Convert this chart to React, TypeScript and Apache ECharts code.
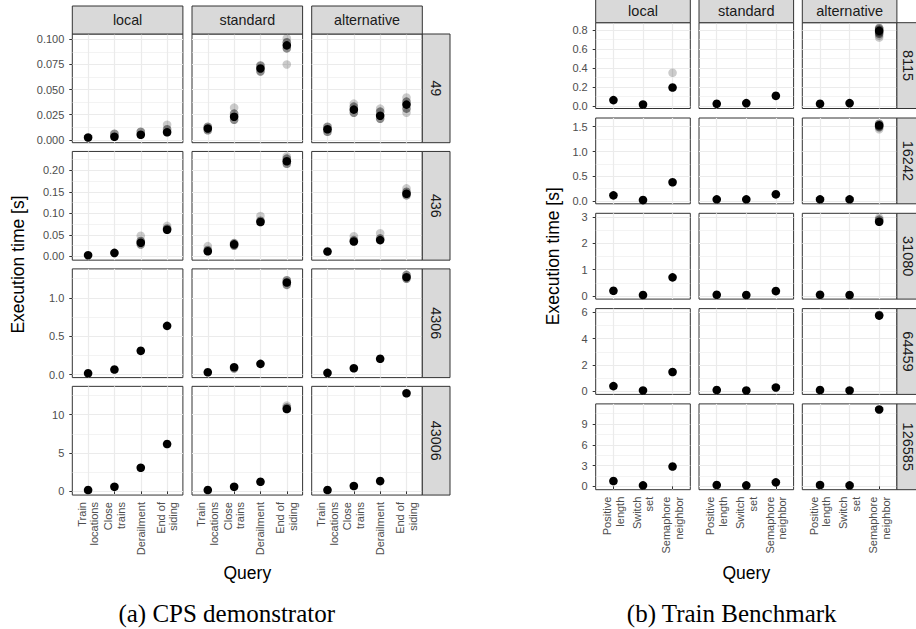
import React, { useEffect, useRef } from "react";
import * as echarts from "echarts";

const methods = ["local", "standard", "alternative"];

// ---------- (a) CPS demonstrator ----------
const cpsQueries = ["Train\nlocations", "Close\ntrains", "Derailment", "End of\nsiding"];
const cpsSizes = ["49", "436", "4306", "43006"];
const cpsTicks = [
  ["0.000", "0.025", "0.050", "0.075", "0.100"],
  ["0.00", "0.05", "0.10", "0.15", "0.20"],
  ["0.0", "0.5", "1.0"],
  ["0", "5", "10"],
];
const cpsYMin = [-0.0029, -0.0085, -0.039, -0.48];
const cpsYMax = [0.1053, 0.2437, 1.378, 13.7];
// typical execution time [s], [method][query]
const cps49 = [
  [0.0023, 0.003, 0.005, 0.0075],
  [0.0113, 0.023, 0.071, 0.094],
  [0.0105, 0.03, 0.024, 0.035],
];
const cps436 = [
  [0.003, 0.0083, 0.032, 0.062],
  [0.012, 0.028, 0.08, 0.221],
  [0.0115, 0.0346, 0.038, 0.1455],
];
const cps4306 = [
  [0.017, 0.066, 0.31, 0.635],
  [0.03, 0.096, 0.14, 1.2],
  [0.022, 0.083, 0.206, 1.27],
];
const cps43006 = [
  [0.17, 0.6, 3.08, 6.17],
  [0.17, 0.6, 1.25, 10.74],
  [0.17, 0.7, 1.34, 12.8],
];
// other runs close to the typical value: [method, query, seconds]
const cps49Runs = [
  [0, 1, 0.006], [0, 2, 0.008], [0, 3, 0.0105],
  [1, 0, 0.0095], [1, 0, 0.013], [1, 1, 0.02], [1, 1, 0.026], [1, 2, 0.068], [1, 2, 0.074], [1, 3, 0.091], [1, 3, 0.097],
  [2, 0, 0.008], [2, 0, 0.013], [2, 1, 0.027], [2, 1, 0.033], [2, 2, 0.021], [2, 2, 0.028], [2, 3, 0.031], [2, 3, 0.038],
];
const cps436Runs = [
  [0, 2, 0.028], [0, 2, 0.036], [0, 3, 0.065],
  [1, 0, 0.015], [1, 1, 0.025], [1, 1, 0.031], [1, 2, 0.083], [1, 3, 0.215], [1, 3, 0.227],
  [2, 1, 0.038], [2, 2, 0.042], [2, 3, 0.142], [2, 3, 0.15],
];
const cps4306Runs = [[1, 1, 0.08], [1, 3, 1.17], [1, 3, 1.23], [2, 3, 1.25], [2, 3, 1.3]];
const cps43006Runs = [[1, 3, 10.95]];
// rare slow runs: [method, query, seconds]
const cps49Outliers = [[0, 3, 0.015], [1, 1, 0.032], [1, 3, 0.075], [1, 3, 0.101], [2, 1, 0.036], [2, 2, 0.031], [2, 3, 0.042], [2, 3, 0.027]];
const cps436Outliers = [[0, 2, 0.048], [0, 3, 0.071], [1, 0, 0.024], [1, 2, 0.094], [1, 3, 0.232], [2, 1, 0.047], [2, 2, 0.054], [2, 3, 0.158]];
const cps4306Outliers: number[][] = [];
const cps43006Outliers = [[1, 3, 11.2]];

// ---------- (b) Train Benchmark ----------
const tbQueries = ["Positive\nlength", "Switch\nset", "Semaphore\nneighbor"];
const tbSizes = ["8115", "16242", "31080", "64459", "126585"];
const tbTicks = [
  ["0.0", "0.2", "0.4", "0.6", "0.8"],
  ["0.0", "0.5", "1.0", "1.5"],
  ["0", "1", "2", "3"],
  ["0", "2", "4", "6"],
  ["0", "3", "6", "9"],
];
const tbYMin = [-0.025, -0.055, -0.114, -0.228, -0.48];
const tbYMax = [0.876, 1.676, 3.14, 6.28, 11.9];
const tb8115 = [[0.063, 0.017, 0.195], [0.024, 0.031, 0.108], [0.024, 0.031, 0.79]];
const tb16242 = [[0.115, 0.02, 0.38], [0.034, 0.034, 0.136], [0.034, 0.034, 1.53]];
const tb31080 = [[0.2, 0.04, 0.71], [0.05, 0.04, 0.19], [0.05, 0.04, 2.82]];
const tb64459 = [[0.4, 0.07, 1.47], [0.1, 0.07, 0.3], [0.1, 0.07, 5.75]];
const tb126585 = [[0.77, 0.14, 2.86], [0.19, 0.14, 0.58], [0.2, 0.14, 11.1]];
const tb8115Runs = [[2, 2, 0.76], [2, 2, 0.775], [2, 2, 0.805], [2, 2, 0.82]];
const tb16242Runs = [[2, 2, 1.49], [2, 2, 1.51], [2, 2, 1.56]];
const tb31080Runs = [[2, 2, 2.9]];
const tb64459Runs = [[2, 2, 5.8]];
const tb126585Runs: number[][] = [];
const tb8115Outliers = [[0, 2, 0.35], [2, 2, 0.74], [2, 2, 0.72]];
const tb16242Outliers = [[2, 2, 1.45]];
const tb31080Outliers = [[2, 2, 2.97]];
const tb64459Outliers: number[][] = [];
const tb126585Outliers: number[][] = [];

const SANS = "'Liberation Sans', Arial, Helvetica, sans-serif";
const SERIF = "'Liberation Serif', 'DejaVu Serif', serif";

type Panel = {
  queries: string[];
  sizes: string[];
  ticks: string[][];
  ymin: number[];
  ymax: number[];
  medians: number[][][];
  runs: number[][][];
  outliers: number[][][];
  left0: number;
  colStep: number;
  pw: number;
  top0: number;
  rowStep: number;
  ph: number;
  colStripY: number;
  colStripH: number;
  rowStripW: number;
  stripFont: number;
  yTitleX: number;
  caption: string;
  captionX: number;
};

const panels: Panel[] = [
  {
    queries: cpsQueries, sizes: cpsSizes, ticks: cpsTicks, ymin: cpsYMin, ymax: cpsYMax,
    medians: [cps49, cps436, cps4306, cps43006],
    runs: [cps49Runs, cps436Runs, cps4306Runs, cps43006Runs],
    outliers: [cps49Outliers, cps436Outliers, cps4306Outliers, cps43006Outliers],
    left0: 72.3, colStep: 119.7, pw: 110.6, top0: 34, rowStep: 117.45, ph: 108.7,
    colStripY: 6, colStripH: 28, rowStripW: 27.7, stripFont: 14.3,
    yTitleX: 17.7, caption: "(a) CPS demonstrator", captionX: 226.7,
  },
  {
    queries: tbQueries, sizes: tbSizes, ticks: tbTicks, ymin: tbYMin, ymax: tbYMax,
    medians: [tb8115, tb16242, tb31080, tb64459, tb126585],
    runs: [tb8115Runs, tb16242Runs, tb31080Runs, tb64459Runs, tb126585Runs],
    outliers: [tb8115Outliers, tb16242Outliers, tb31080Outliers, tb64459Outliers, tb126585Outliers],
    left0: 595.7, colStep: 103.3, pw: 94.6, top0: 22.7, rowStep: 95.3, ph: 85.8,
    colStripY: -0.5, colStripH: 23.2, rowStripW: 22, stripFont: 14.5,
    yTitleX: 553, caption: "(b) Train Benchmark", captionX: 731.7,
  },
];

function buildOption() {
  const grid: any[] = [];
  const xAxis: any[] = [];
  const yAxis: any[] = [];
  const series: any[] = [];
  const graphic: any[] = [];

  panels.forEach((P) => {
    const nR = P.sizes.length;
    const nQ = P.queries.length;
    const qVals = P.queries.map((_, i) => i + 1);
    for (let r = 0; r < nR; r++) {
      const tickVals = P.ticks[r].map(Number);
      const step = tickVals[1] - tickVals[0];
      const minorVals: number[] = [];
      for (let v = tickVals[0] - step / 2; v <= tickVals[tickVals.length - 1] + step / 2 + 1e-12; v += step) {
        if (v > P.ymin[r] && v < P.ymax[r]) minorVals.push(v);
      }
      const labels = P.ticks[r];
      for (let c = 0; c < 3; c++) {
        const g = grid.length;
        const left = P.left0 + c * P.colStep;
        const top = P.top0 + r * P.rowStep;
        grid.push({
          left, top, width: P.pw, height: P.ph,
          show: true, borderColor: "#333333", borderWidth: 1, backgroundColor: "#FFFFFF",
          containLabel: false, outerBoundsMode: "none",
        });
        const bottom = r === nR - 1;
        xAxis.push({
          type: "value", gridIndex: g, min: 0.4, max: nQ + 0.6,
          axisLine: { show: false },
          axisTick: { show: bottom, length: 3, lineStyle: { color: "#333333", width: 1 }, customValues: qVals },
          axisLabel: {
            show: bottom, customValues: qVals, rotate: 90, margin: 7,
            fontSize: 11, lineHeight: 12.7, color: "#4D4D4D", fontFamily: SANS,
            formatter: (v: number) => P.queries[Math.round(v) - 1] ?? "",
          },
          splitLine: { show: true, lineStyle: { color: "#EBEBEB", width: 1.2 } },
        });
        const first = c === 0;
        yAxis.push({
          type: "value", gridIndex: g, min: P.ymin[r], max: P.ymax[r], position: "left",
          axisLine: { show: false },
          axisTick: { show: first, length: 3, lineStyle: { color: "#333333", width: 1 }, customValues: tickVals },
          axisLabel: {
            show: first, customValues: tickVals, margin: 8, fontSize: 11, color: "#4D4D4D", fontFamily: SANS,
            formatter: (v: number) => {
              const i = tickVals.findIndex((t) => Math.abs(t - v) < 1e-9);
              return i >= 0 ? labels[i] : "";
            },
          },
          splitLine: { show: true, lineStyle: { color: "#EBEBEB", width: 1.2 } },
        });
        const yMajor = yAxis.length - 1;
        yAxis.push({
          type: "value", gridIndex: g, min: P.ymin[r], max: P.ymax[r], position: "right",
          axisLine: { show: false },
          axisTick: { show: false, customValues: minorVals },
          axisLabel: { show: false, customValues: minorVals },
          splitLine: { show: true, lineStyle: { color: "#EBEBEB", width: 0.6 } },
        });
        const common = {
          type: "scatter", xAxisIndex: g, yAxisIndex: yMajor, symbol: "circle", symbolSize: 8.6,
          silent: true, emphasis: { disabled: true },
        };
        series.push({
          ...common, name: `${P.sizes[r]} ${methods[c]} outliers`,
          data: P.outliers[r].filter((d) => d[0] === c).map((d) => [d[1] + 1, d[2]]),
          itemStyle: { color: "#000000", opacity: 0.2 },
        });
        series.push({
          ...common, name: `${P.sizes[r]} ${methods[c]} runs`,
          data: P.runs[r].filter((d) => d[0] === c).map((d) => [d[1] + 1, d[2]]),
          itemStyle: { color: "#000000", opacity: 0.45 },
        });
        series.push({
          ...common, name: `${P.sizes[r]} ${methods[c]}`,
          data: P.medians[r][c].map((v, q) => [q + 1, v]),
          itemStyle: { color: "#000000", opacity: 1 },
        });
      }
      // row strip
      const rx = P.left0 + 2 * P.colStep + P.pw;
      const top = P.top0 + r * P.rowStep;
      graphic.push({
        type: "rect", shape: { x: rx, y: top, width: P.rowStripW, height: P.ph },
        style: { fill: "#D9D9D9", stroke: "#333333", lineWidth: 1 }, z: 10,
      });
      graphic.push({
        type: "text", x: rx + P.rowStripW / 2, y: top + P.ph / 2, rotation: -Math.PI / 2, z: 11,
        style: {
          text: P.sizes[r], fill: "#1A1A1A", font: `${P.stripFont}px ${SANS}`,
          textAlign: "center", textVerticalAlign: "middle", align: "center", verticalAlign: "middle",
        },
      });
    }
    // column strips
    for (let c = 0; c < 3; c++) {
      const left = P.left0 + c * P.colStep;
      graphic.push({
        type: "rect", shape: { x: left, y: P.colStripY, width: P.pw, height: P.colStripH },
        style: { fill: "#D9D9D9", stroke: "#333333", lineWidth: 1 }, z: 10,
      });
      graphic.push({
        type: "text", x: left + P.pw / 2, y: P.colStripY + P.colStripH / 2, z: 11,
        style: {
          text: methods[c], fill: "#1A1A1A", font: `${P.stripFont}px ${SANS}`,
          textAlign: "center", textVerticalAlign: "middle", align: "center", verticalAlign: "middle",
        },
      });
    }
    const panelsTop = P.top0;
    const panelsBottom = P.top0 + (nR - 1) * P.rowStep + P.ph;
    const panelsLeft = P.left0;
    const panelsRight = P.left0 + 2 * P.colStep + P.pw;
    graphic.push({
      type: "text", x: P.yTitleX, y: (panelsTop + panelsBottom) / 2, rotation: Math.PI / 2, z: 11,
      style: {
        text: "Execution time [s]", fill: "#000000", font: `17.5px ${SANS}`,
        textAlign: "center", textVerticalAlign: "middle", align: "center", verticalAlign: "middle",
      },
    });
    graphic.push({
      type: "text", x: (panelsLeft + panelsRight) / 2, y: 573, z: 11,
      style: {
        text: "Query", fill: "#000000", font: `17.5px ${SANS}`,
        textAlign: "center", textVerticalAlign: "middle", align: "center", verticalAlign: "middle",
      },
    });
    graphic.push({
      type: "text", x: P.captionX, y: 613, z: 11,
      style: {
        text: P.caption, fill: "#000000", font: `25px ${SERIF}`,
        textAlign: "center", textVerticalAlign: "middle", align: "center", verticalAlign: "middle",
      },
    });
  });

  return {
    animation: false,
    backgroundColor: "#FFFFFF",
    textStyle: { fontFamily: SANS },
    grid, xAxis, yAxis, series, graphic,
  };
}

export default function App() {
  const ref = useRef<HTMLDivElement | null>(null);
  useEffect(() => {
    if (!ref.current) return;
    const chart = echarts.init(ref.current, undefined, { renderer: "svg" });
    chart.setOption(buildOption() as any);
    return () => chart.dispose();
  }, []);
  return (
    <div
      ref={ref}
      style={{ position: "absolute", left: 0, top: 0, width: 916, height: 629, background: "#fff" }}
    />
  );
}
